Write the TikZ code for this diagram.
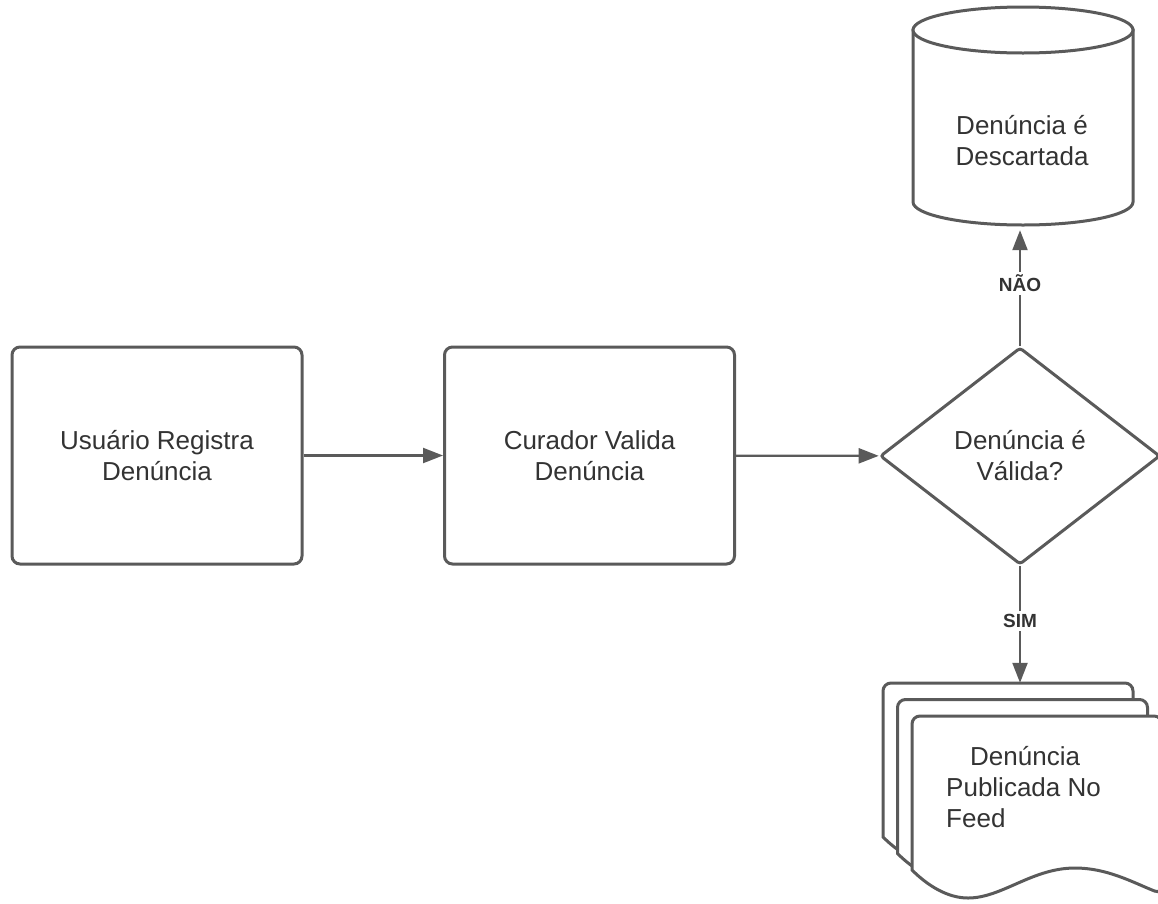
\documentclass[tikz,border=0pt]{standalone}
\usepackage{fontspec}
\setmainfont{Liberation Sans}
\usetikzlibrary{arrows.meta,shapes.geometric}
\definecolor{edge}{HTML}{5A5A5A}
\definecolor{ink}{HTML}{333333}
\tikzset{%
  flow/.style = {x=1pt, y=-1pt, font=\fontsize{26}{31}\selectfont, text=ink},
  process/.style = {shape=rectangle, rounded corners=8pt, draw=edge,
    line width=3pt, fill=white, align=center,
    minimum width=290pt, minimum height=217pt},
  decision/.style = {shape=diamond, aspect=1.29, rounded corners=3pt,
    draw=edge, line width=3pt, fill=white, align=center, inner sep=0pt,
    minimum width=280pt, minimum height=217pt},
  outline/.style = {draw=edge, line width=3pt, fill=white},
  hold/.style = {shape=rectangle, inner sep=0pt, align=center},
  flowline/.style = {draw=edge, line width=2.2pt,
    -{Triangle[length=20pt,width=15pt]}},
  answer/.style = {fill=white, inner sep=3pt,
    font=\fontsize{19}{22}\selectfont\bfseries}
}
\newcommand{\docpage}[2]{%
  \path[outline] (#1,#2+154) [rounded corners=8pt] -- (#1,#2) -- (#1+250,#2)
    -- (#1+250,#2+178) [sharp corners]
    .. controls (#1+220,#2+166) and (#1+195,#2+152) .. (#1+163,#2+152)
    .. controls (#1+120,#2+152) and (#1+90,#2+182) .. (#1+56,#2+182)
    .. controls (#1+35,#2+182) and (#1+15,#2+169) .. (#1,#2+154) -- cycle;}

\begin{document}
\begin{tikzpicture}[flow]
  \useasboundingbox (0,0) rectangle (1158,903);
  \node[process] (usr) at (157,455.5) {Usuário Registra\\Denúncia};
  \node[process] (cur) at (589.5,455.5) {Curador Valida\\Denúncia};
  \node[decision] (val) at (1020,456) {Denúncia é\\Válida?};

  \node[hold, minimum width=220pt, minimum height=218pt] (db) at (1023,116) {};
  \path[outline] (913,30) -- (913,202)
    arc[start angle=180, end angle=0, x radius=110, y radius=23] -- (1133,30) -- cycle;
  \path[outline] (1023,30) ellipse[x radius=110, y radius=23];
  \node[hold] (dbtext) at (1022,141) {Denúncia é\\Descartada};

  \node[hold, minimum width=279pt, minimum height=217pt] (stack) at (1022.5,791.5) {};
  \docpage{883}{683}
  \docpage{897.5}{699.5}
  \docpage{912}{716}
  \node[hold, align=left, anchor=north west] (pub) at (946,746)
    {\hspace*{24pt}Denúncia\\Publicada No\\Feed};

  \draw[flowline] (usr) -- (cur);
  \draw[flowline] (cur) -- (val);
  \draw[flowline, shorten >=5pt] (val.north) -- node[answer, pos=0.52] {NÃO} (val.north |- db.south);
  \draw[flowline] (val.south) -- node[answer, pos=0.47] {SIM} (val.south |- stack.north);
\end{tikzpicture}
\end{document}
